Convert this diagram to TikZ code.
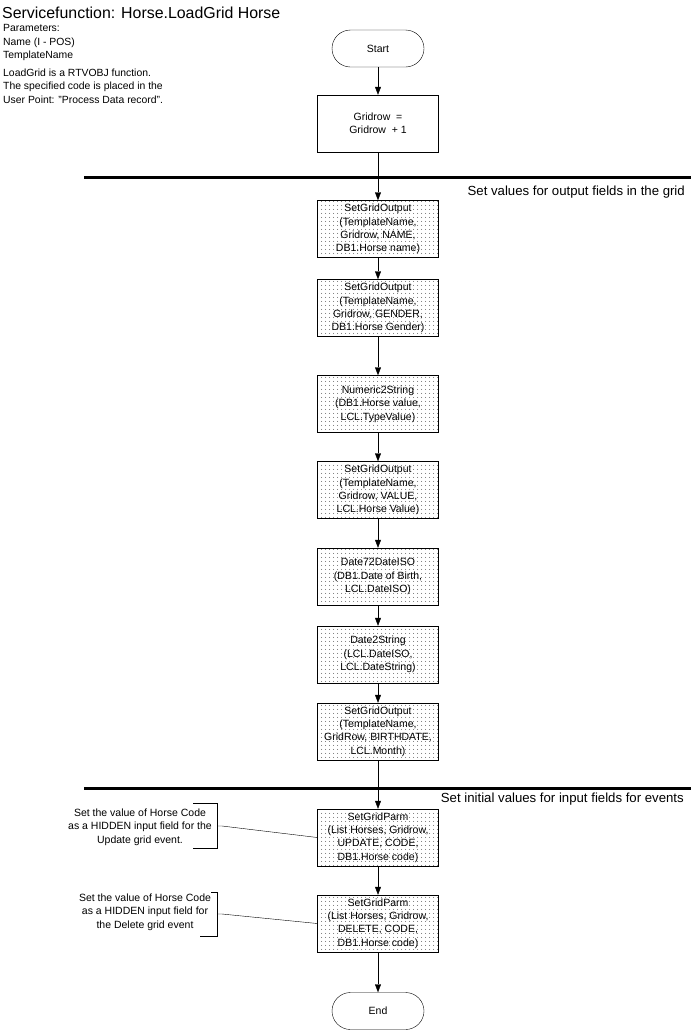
\documentclass[tikz,border=0pt]{standalone}
\usepackage{fontspec}
\setmainfont{Liberation Sans}
\usetikzlibrary{arrows.meta,patterns,shapes.misc}
\pgfdeclarepatternformonly{sparsedots}{\pgfpointorigin}{\pgfqpoint{4pt}{4pt}}{\pgfqpoint{4pt}{4pt}}%
  {\pgfpathcircle{\pgfqpoint{2pt}{2pt}}{0.55pt}\pgfusepath{fill}}
\begin{document}
\begin{tikzpicture}[x=1pt,y=-1pt,
  every node/.style={font=\fontsize{10.5}{13.3}\selectfont},
  term/.style={draw, rounded rectangle, minimum width=94pt, minimum height=37pt, inner sep=1pt},
  proc/.style={draw, minimum width=121pt, minimum height=57pt, align=center, inner sep=1pt},
  dotbox/.style={proc, pattern=sparsedots, pattern color=black!85},
  plain/.style={inner sep=0pt, font=\fontsize{10.4}{13.5}\selectfont},
  note/.style={inner sep=0pt, align=center, font=\fontsize{10.5}{13.5}\selectfont},
  section/.style={inner sep=0pt, anchor=base east, font=\fontsize{13.2}{15}\selectfont},
  arr/.style={-{Triangle[length=8pt,width=6pt]}},
  bar/.style={line width=3pt}]
\useasboundingbox (0,0) rectangle (691,1031);

% header texts
\node[plain, anchor=base west, font=\fontsize{15.9}{19}\selectfont] (title) at (2,18) {Servicefunction: Horse.LoadGrid Horse};
\node[plain, anchor=base west] (p1) at (3,31) {Parameters:};
\node[plain, anchor=base west] (p2) at (3,45) {Name (I - POS)};
\node[plain, anchor=base west] (p3) at (3,58) {TemplateName};
\node[plain, anchor=base west] (d1) at (3,76) {LoadGrid is a RTVOBJ function.};
\node[plain, anchor=base west] (d2) at (3,89.5) {The specified code is placed in the};
\node[plain, anchor=base west] (d3) at (3,103) {User Point: "Process Data record".};

% section separators
\coordinate (s1l) at (84,177);
\coordinate (s1r) at (691,177);
\draw[bar] (s1l) -- (s1r);
\node[section] (sec1) at (685,195) {Set values for output fields in the grid};
\coordinate (s2l) at (84,788);
\coordinate (s2r) at (691,788);
\draw[bar] (s2l) -- (s2r);
\node[section] (sec2) at (684,802) {Set initial values for input fields for events};

% flow nodes
\node[term] (start) at (378,48.5) {Start};
\node[proc] (grid) at (378,123.5) {Gridrow \ =\\Gridrow \ + 1};
\node[dotbox] (b1) at (378,229) {SetGridOutput\\(TemplateName,\\Gridrow, NAME,\\DB1.Horse name)};
\node[dotbox] (b2) at (378,308) {SetGridOutput\\(TemplateName,\\Gridrow, GENDER,\\DB1.Horse Gender)};
\node[dotbox] (b3) at (378,404) {Numeric2String\\(DB1.Horse value,\\LCL.TypeValue)};
\node[dotbox] (b4) at (378,490) {SetGridOutput\\(TemplateName,\\Gridrow, VALUE,\\LCL.Horse Value)};
\node[dotbox] (b5) at (378,576.5) {Date72DateISO\\(DB1.Date of Birth,\\LCL.DateISO)};
\node[dotbox] (b6) at (378,654.5) {Date2String\\(LCL.DateISO,\\LCL.DateString)};
\node[dotbox] (b7) at (378,731.5) {SetGridOutput\\(TemplateName,\\GridRow, BIRTHDATE,\\LCL.Month)};
\node[dotbox] (b8) at (378,837.5) {SetGridParm\\(List Horses, Gridrow,\\UPDATE, CODE,\\DB1.Horse code)};
\node[dotbox] (b9) at (378,923.5) {SetGridParm\\(List Horses, Gridrow,\\DELETE, CODE,\\DB1.Horse code)};
\node[term] (end) at (378,1011) {End};

\draw[arr] (start.south) -- (grid.north);
\draw[arr] (grid.south) -- (b1.north);
\draw[arr] (b1.south) -- (b2.north);
\draw[arr] (b2.south) -- (b3.north);
\draw[arr] (b3.south) -- (b4.north);
\draw[arr] (b4.south) -- (b5.north);
\draw[arr] (b5.south) -- (b6.north);
\draw[arr] (b6.south) -- (b7.north);
\draw[arr] (b7.south) -- (b8.north);
\draw[arr] (b8.south) -- (b9.north);
\draw[arr] (b9.south) -- (end.north);

% annotations
\node[note] (n1) at (140,827) {Set the value of Horse Code\\as a HIDDEN input field for the\\Update grid event.};
\draw (193,803) -- (217,803) -- (217,848) -- (193,848);
\coordinate (n1t) at (217,826);
\draw (n1t) -- ++(5,0) -- (b8.west);
\node[note] (n2) at (145,912) {Set the value of Horse Code\\as a HIDDEN input field for\\the Delete grid event};
\draw (211,892) -- (217,892) -- (217,936) -- (200,936);
\coordinate (n2t) at (217,914);
\draw (n2t) -- ++(5,0) -- (b9.west);
\end{tikzpicture}
\end{document}
